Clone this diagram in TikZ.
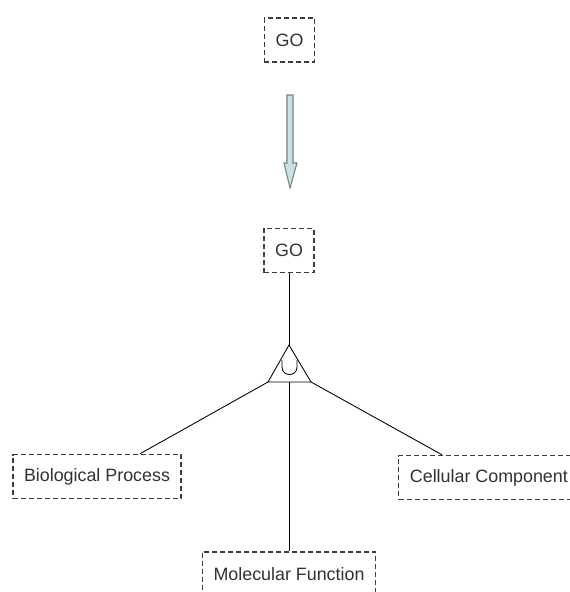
\documentclass[tikz,border=0pt]{standalone}
\usepackage{fontspec}
\setmainfont{Liberation Sans}
\definecolor{boxgray}{RGB}{60,60,60}
\definecolor{textgray}{RGB}{50,50,50}
\definecolor{arrowfill}{RGB}{200,226,226}
\definecolor{arrowline}{RGB}{120,130,130}
\begin{document}
\begin{tikzpicture}[x=0.75pt,y=-0.75pt,
  box/.style={draw=boxgray, line width=1.1pt, dash pattern=on 3.75pt off 2.25pt,
    text=textgray, font=\fontsize{13.4}{15}\selectfont, minimum height=33pt,
    inner xsep=8.4pt, inner ysep=0pt},
  conn/.style={draw=black, line width=0.65pt},
  bigarrow/.style={fill=arrowfill, draw=arrowline, line width=0.8pt, line join=miter}]
\useasboundingbox (0,0) rectangle (570,592);
\clip (0,0) rectangle (570,592);
\fill[white] (0,0) rectangle (570,592);

% boxes
\node[box] (go1) at (289.5,40) {GO};
\node[box] (go2) at (289,250.5) {GO};
\node[box] (bp) at (97,476.5) {Biological Process};
\node[box, anchor=west] (cc) at (398,477.5) {Cellular Component};
\node[box] (mf) at (289,574) {Molecular Function};

% big arrow between the two GO boxes
\path[bigarrow] (287,95) -- (293,95) -- (293,163) -- (297,163) -- (290,188)
  -- (284,163) -- (287,163) -- cycle;

% union triangle
\coordinate (apex) at (289,345);
\coordinate (bl) at (268,382);
\coordinate (br) at (311,382);
\coordinate (bm) at (289,382);
\draw[conn, line join=miter] (apex) -- (bl) -- (br) -- cycle;
\draw[conn] (282,360) -- (282,367) .. controls (282,377) and (297,377) .. (297,367) -- (297,360);

% connectors
\draw[conn] (go2.south) -- (apex);
\draw[conn] (bl) -- ([xshift=32.25pt]bp.north);
\draw[conn] (br) -- ([xshift=33pt]cc.north west);
\draw[conn] (bm) -- (mf.north);
\end{tikzpicture}
\end{document}
